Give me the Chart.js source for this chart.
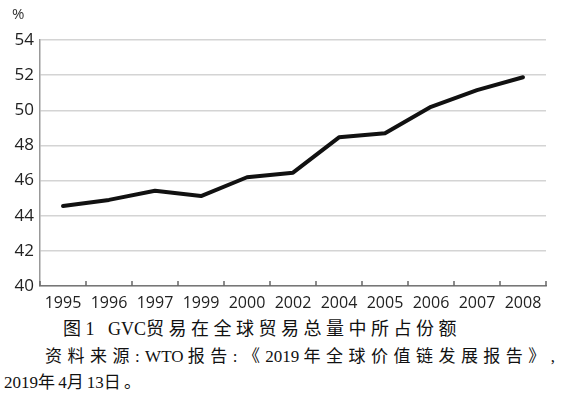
<!DOCTYPE html>
<html><head><meta charset="utf-8">
<script src="https://cdn.jsdelivr.net/npm/chart.js@4"></script>
<style>
html,body{margin:0;padding:0;background:#fff;}
#wrap{position:relative;width:563px;height:404px;}
#box{position:absolute;left:0;top:0;width:563px;height:310px;}
.t{position:absolute;white-space:nowrap;color:#111;font-family:"Liberation Serif","Noto Sans CJK SC",serif;}
</style></head><body>
<div id="wrap">
<div id="box"><canvas id="c"></canvas></div>
<div class="t" style="left:12px;top:3px;font-size:15px;color:#333;font-family:'Open Sans',sans-serif;">%</div>
<div class="t cap" data-w="398" style="left:63px;top:314px;font-size:18px;">图1&nbsp;&nbsp;&nbsp;GVC贸易在全球贸易总量中所占份额</div>
<div class="t cap" data-w="510" style="left:45px;top:342px;font-size:17px;">资料来源:WTO 报告:《2019 年全球价值链发展报告》,</div>
<div class="t cap" data-w="140" style="left:4px;top:368px;font-size:17px;">2019年4月13日。</div>
</div>
<script>
const years = ['1995','1996','1997','1999','2000','2002','2004','2005','2006','2007','2008'];
const gvcShare = [44.55, 44.9, 45.42, 45.12, 46.19, 46.45, 48.46, 48.69, 50.2, 51.15, 51.88];
const yTicks = [40, 42, 44, 46, 48, 50, 52, 54];

// space CJK characters so each caption line spans the same width as in the figure
document.querySelectorAll('.cap').forEach(el => {
  const txt = el.textContent;
  el.textContent = '';
  const spans = [];
  for (const ch of txt) {
    const s = document.createElement('span');
    s.textContent = ch;
    if (/[\u3000-\u9fff\uff00-\uffef《》:]/.test(ch)) spans.push(s);
    el.appendChild(s);
  }
  const natural = el.getBoundingClientRect().width;
  const sp = Math.max(0, (parseFloat(el.dataset.w) - natural) / spans.length);
  spans.forEach(s => s.style.letterSpacing = sp + 'px');
});

const upTicks = {
  id: 'upTicks',
  afterDatasetsDraw(chart) {
    const x = chart.scales.x, ctx = chart.ctx, b = chart.chartArea.bottom;
    ctx.save();
    ctx.strokeStyle = '#666';
    ctx.lineWidth = 1.5;
    for (let i = 0; i <= years.length; i++) {
      const px = x.getPixelForValue(i - 0.5);
      ctx.beginPath();
      ctx.moveTo(px, b);
      ctx.lineTo(px, b - 5);
      ctx.stroke();
    }
    ctx.restore();
  }
};

new Chart(document.getElementById('c'), {
  type: 'line',
  data: {
    labels: years,
    datasets: [{
      data: gvcShare,
      borderColor: '#111',
      borderWidth: 4,
      pointRadius: 0,
      tension: 0,
      borderCapStyle: 'round',
      borderJoinStyle: 'round'
    }]
  },
  options: {
    responsive: true,
    maintainAspectRatio: false,
    animation: false,
    layout: { padding: { top: 40, right: 17, left: 0, bottom: 0 } },
    plugins: { legend: { display: false }, tooltip: { enabled: false } },
    scales: {
      x: {
        offset: true,
        grid: { display: false, offset: true },
        border: { display: true, color: '#777', width: 1.5 },
        ticks: { color: '#222', font: { family: 'Open Sans', size: 16 }, padding: 0, maxRotation: 0, autoSkip: false },
        afterFit(s) { s.height = 24; }
      },
      y: {
        min: 40, max: 54,
        afterBuildTicks(s) { s.ticks = yTicks.map(v => ({ value: v })); },
        grid: { color: '#d4d4d4', lineWidth: 1.5, drawTicks: false },
        border: { display: true, color: '#999', width: 1.5 },
        ticks: { color: '#222', font: { family: 'Open Sans', size: 17 }, padding: 6 },
        afterFit(s) { s.width = 40; }
      }
    }
  },
  plugins: [upTicks]
});
</script>
</body></html>
